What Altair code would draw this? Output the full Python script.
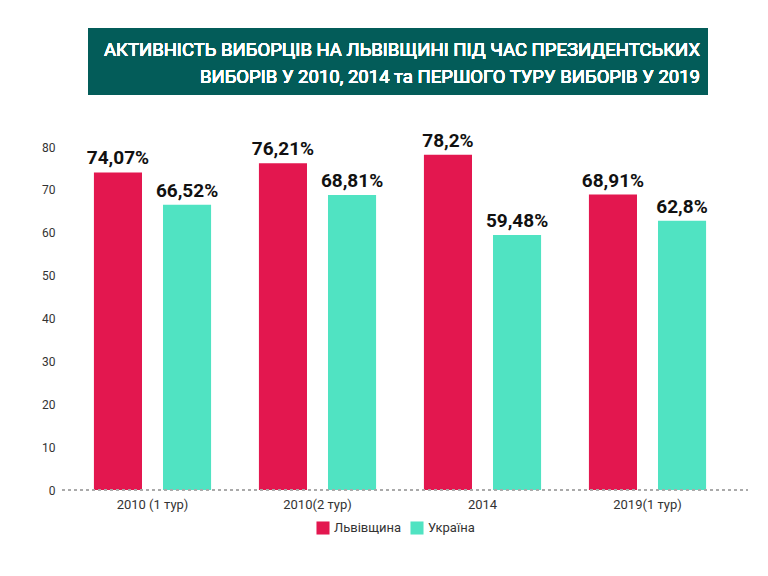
import altair as alt
import pandas as pd

# values
rounds = ["2010 (1 тур)", "2010(2 тур)", "2014", "2019(1 тур)"]
lviv = [74.07, 76.21, 78.2, 68.91]
ukraine = [66.52, 68.81, 59.48, 62.8]
series = ["Львівщина", "Україна"]
y_ticks = [0, 10, 20, 30, 40, 50, 60, 70, 80]
title_text = ("АКТИВНІСТЬ ВИБОРЦІВ НА ЛЬВІВЩИНІ ПІД ЧАС ПРЕЗИДЕНТСЬКИХ\n"
              "ВИБОРІВ У 2010, 2014 та ПЕРШОГО ТУРУ ВИБОРІВ У 2019")

RED = "#e3174f"
TEAL = "#50e3c2"
BANNER = "#035c59"
FONT = "Roboto"

rows = []
for r, a, b in zip(rounds, lviv, ukraine):
    rows.append({"round": r, "series": series[0], "value": a})
    rows.append({"round": r, "series": series[1], "value": b})
df = pd.DataFrame(rows)
df["label"] = df["value"].map(lambda v: f"{v:g}".replace(".", ",") + "%")

W, H = 660, 343

x_enc = alt.X("round:N", sort=rounds, title=None,
              scale=alt.Scale(paddingInner=0.29, paddingOuter=0.145),
              axis=alt.Axis(labelAngle=0, domain=False, ticks=False,
                            labelFont=FONT, labelFontSize=13,
                            labelColor="#333", labelPadding=8))
off_enc = alt.XOffset("series:N", sort=series,
                      scale=alt.Scale(paddingInner=0.304, paddingOuter=0))
y_scale = alt.Scale(domain=[0, 80], nice=False)
y_enc = alt.Y("value:Q", title=None, scale=y_scale,
              axis=alt.Axis(values=y_ticks, grid=False, domain=False,
                            ticks=False, labelFont=FONT,
                            labelFontSize=12, labelColor="#333",
                            labelPadding=15))

bars = alt.Chart(df).mark_bar().encode(
    x=x_enc,
    xOffset=off_enc,
    y=y_enc,
    color=alt.Color("series:N", sort=series, title=None,
                    scale=alt.Scale(domain=series, range=[RED, TEAL]),
                    legend=alt.Legend(orient="none", direction="horizontal",
                                      legendX=246, legendY=374,
                                      symbolType="square", symbolSize=170,
                                      symbolStrokeWidth=0,
                                      labelFont=FONT, labelFontSize=13,
                                      labelColor="#333", columnPadding=8,
                                      labelOffset=4)),
)

labels = alt.Chart(df).mark_text(
    baseline="bottom", dy=-4, font=FONT, fontWeight="bold",
    fontSize=19, color="#111"
).encode(
    x=alt.X("round:N", sort=rounds),
    xOffset=off_enc,
    y=alt.Y("value:Q", scale=y_scale),
    text="label:N",
)

baseline = alt.Chart(df).mark_rule(
    color="#aaa", strokeDash=[3, 3], strokeWidth=1.5
).encode(x=alt.value(-8), x2=alt.value(678), y=alt.datum(0))

banner = alt.Chart(df).mark_rect(color=BANNER).encode(
    x=alt.value(18), x2=alt.value(638), y=alt.value(-119), y2=alt.value(-52)
)

title = alt.Chart(df).mark_text(
    align="right", baseline="middle", font=FONT, fontSize=18.5,
    fontWeight="normal", color="white", lineBreak="\n", lineHeight=27
).encode(
    x=alt.value(630),
    y=alt.value(-97),
    text=alt.value(title_text),
)

chart = alt.layer(banner, title, bars, baseline, labels).properties(
    width=W, height=H,
    autosize=alt.AutoSizeParams(type="none"),
    padding={"left": 62, "top": 139, "right": 30, "bottom": 78},
).configure(
    background="white", view=alt.ViewConfig(stroke=None)
)

chart.save("out.html", embed_options={"renderer": "svg", "actions": False})
